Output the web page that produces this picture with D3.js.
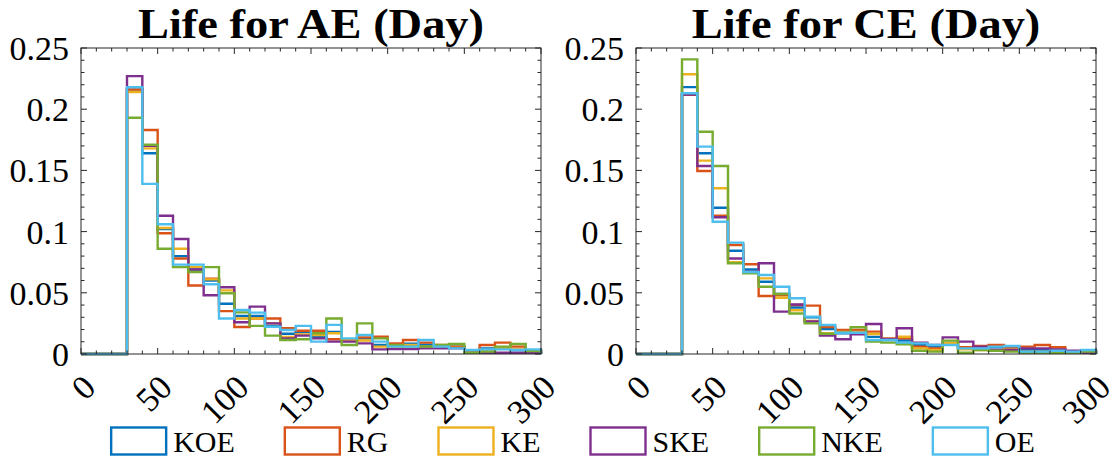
<!DOCTYPE html>
<html><head><meta charset="utf-8">
<script src="https://cdn.jsdelivr.net/npm/d3@7/dist/d3.min.js"></script>
<style>html,body{margin:0;padding:0;background:#fff;}svg{display:block;}</style>
</head><body><svg id="c" width="1118" height="468"></svg>
<script>
// ---- data ----
const binStarts = [0,10,20,30,40,50,60,70,80,90,100,110,120,130,140,150,160,170,180,190,200,210,220,230,240,250,260,270,280,290];
const binEnd = 300;
const seriesNames = ["KOE","RG","KE","SKE","NKE","OE"];
const seriesColors = ["#0072BD","#D95319","#EDB120","#7E2F8E","#77AC30","#4DBEEE"];
const xTicks = [0,50,100,150,200,250,300];
const yTicks = [0,0.05,0.1,0.15,0.2,0.25];
const yTickLabels = ["0","0.05","0.1","0.15","0.2","0.25"];
const titles = ["Life for AE (Day)","Life for CE (Day)"];

// Panel 1: AE
const aeKOE = [0,0,0,0.216,0.164,0.102,0.080,0.069,0.060,0.041,0.031,0.031,0.023,0.0165,0.018,0.014,0.018,0.012,0.0128,0.0074,0.007,0.0085,0.0075,0.0065,0.006,0.003,0.0046,0.0046,0.0033,0.0025];
const aeRG  = [0,0,0,0.216,0.183,0.0986,0.078,0.056,0.0616,0.035,0.022,0.029,0.029,0.021,0.019,0.019,0.012,0.0114,0.0136,0.0141,0.0087,0.0114,0.0093,0.0074,0.006,0.0019,0.0074,0.0093,0.006,0.0025];
const aeKE  = [0,0,0,0.214,0.168,0.103,0.086,0.071,0.061,0.052,0.029,0.029,0.025,0.014,0.016,0.0155,0.0169,0.011,0.011,0.006,0.0055,0.0074,0.006,0.0055,0.005,0.0025,0.0033,0.005,0.0038,0.0025];
const aeSKE = [0,0,0,0.227,0.170,0.113,0.094,0.069,0.048,0.0545,0.026,0.0387,0.025,0.0128,0.015,0.0128,0.0101,0.0101,0.0087,0.0038,0.004,0.004,0.0046,0.0046,0.0046,0.001,0.001,0.001,0.001,0.001];
const aeNKE = [0,0,0,0.193,0.171,0.086,0.071,0.067,0.071,0.0496,0.034,0.023,0.015,0.0114,0.012,0.017,0.029,0.0074,0.025,0.0128,0.0074,0.006,0.006,0.0074,0.0082,0.001,0.0019,0.006,0.0082,0.0025];
const aeOE  = [0,0,0,0.218,0.139,0.106,0.073,0.073,0.057,0.029,0.036,0.0338,0.0223,0.0196,0.023,0.0101,0.0238,0.0128,0.0155,0.0101,0.006,0.006,0.0114,0.006,0.0046,0.0033,0.0038,0.0038,0.0033,0.0038];

// Panel 2: CE
const ceKOE = [0,0,0,0.218,0.164,0.1195,0.0844,0.069,0.059,0.049,0.038,0.030,0.0204,0.017,0.018,0.014,0.0114,0.011,0.0074,0.006,0.009,0.0046,0.0046,0.0055,0.0046,0.0033,0.0033,0.0033,0.0019,0.0019];
const ceRG  = [0,0,0,0.2117,0.1495,0.113,0.089,0.0733,0.0474,0.048,0.040,0.0395,0.022,0.0196,0.0196,0.0183,0.0128,0.0128,0.006,0.0046,0.0087,0.0055,0.0065,0.0074,0.0046,0.006,0.0074,0.0055,0.0019,0.0025];
const ceKE  = [0,0,0,0.2285,0.158,0.1354,0.0749,0.0665,0.0618,0.046,0.0358,0.027,0.017,0.018,0.018,0.0163,0.012,0.0141,0.0046,0.0033,0.009,0.0038,0.0033,0.0027,0.0038,0.0019,0.0019,0.0019,0.001,0.0019];
const ceSKE = [0,0,0,0.212,0.1536,0.1117,0.078,0.0673,0.0741,0.0346,0.0405,0.0265,0.015,0.012,0.016,0.0245,0.012,0.021,0.0093,0.0074,0.0136,0.0101,0.006,0.0033,0.0033,0.0046,0.0046,0.0038,0.0027,0.001];
const ceNKE = [0,0,0,0.2407,0.1816,0.1536,0.0741,0.066,0.055,0.049,0.0331,0.025,0.0165,0.0174,0.0218,0.0101,0.0093,0.008,0.0027,0.0019,0.0109,0.001,0.0033,0.0027,0.0019,0.001,0.001,0.001,0.001,0.0019];
const ceOE  = [0,0,0,0.213,0.1694,0.1081,0.091,0.067,0.0645,0.055,0.0455,0.0305,0.0237,0.0174,0.0174,0.0114,0.0114,0.0093,0.0087,0.0074,0.0074,0.0046,0.0046,0.006,0.0065,0.0019,0.0019,0.0027,0.0019,0.0033];

const panelsData = [
  [aeKOE, aeRG, aeKE, aeSKE, aeNKE, aeOE],
  [ceKOE, ceRG, ceKE, ceSKE, ceNKE, ceOE]
];

// ---- layout ----
const svg = d3.select("#c");
const FONT = "'Liberation Serif','Times New Roman',serif";
const axColor = "#262626";
const panelBoxes = [{l:81, r:541}, {l:636, r:1096}];
const yTop = 48, yBottom = 354;

panelBoxes.forEach((pb, pi) => {
  const x = d3.scaleLinear().domain([0, 300]).range([pb.l, pb.r]);
  const y = d3.scaleLinear().domain([0, 0.25]).range([yBottom, yTop]);
  const g = svg.append("g");

  // series stairs
  panelsData[pi].forEach((vals, si) => {
    const pts = [[binStarts[0], 0]];
    vals.forEach((v, i) => pts.push([binStarts[i], v]));
    pts.push([binEnd, vals[vals.length - 1]]);
    pts.push([binEnd, 0]);
    const line = d3.line().x(d => x(d[0])).y(d => y(d[1])).curve(d3.curveStepAfter);
    g.append("path").attr("d", line(pts)).attr("fill", "none")
      .attr("stroke", seriesColors[si]).attr("stroke-width", 2.4)
      .attr("stroke-linejoin", "miter");
  });

  // box
  g.append("rect").attr("x", pb.l).attr("y", yTop).attr("width", pb.r - pb.l).attr("height", yBottom - yTop)
    .attr("fill", "none").attr("stroke", axColor).attr("stroke-width", 1);

  // minor / major ticks (inward, mirrored)
  const xMinor = d3.range(0, 301, 10);
  xMinor.forEach(t => {
    const len = (t % 50 === 0) ? 6 : 3.5;
    g.append("line").attr("x1", x(t)).attr("x2", x(t)).attr("y1", yBottom).attr("y2", yBottom - len).attr("stroke", axColor);
    g.append("line").attr("x1", x(t)).attr("x2", x(t)).attr("y1", yTop).attr("y2", yTop + len).attr("stroke", axColor);
  });
  const yMinor = d3.range(0, 26, 1).map(k => k / 100);
  yMinor.forEach((t, k) => {
    const len = (k % 5 === 0) ? 6 : 3.5;
    g.append("line").attr("y1", y(t)).attr("y2", y(t)).attr("x1", pb.l).attr("x2", pb.l + len).attr("stroke", axColor);
    g.append("line").attr("y1", y(t)).attr("y2", y(t)).attr("x1", pb.r).attr("x2", pb.r - len).attr("stroke", axColor);
  });

  // y tick labels
  yTicks.forEach((t, i) => {
    g.append("text").attr("x", pb.l - 12).attr("y", y(t)).attr("dy", "0.35em")
      .attr("text-anchor", "end").attr("font-family", FONT).attr("font-size", 34)
      .attr("fill", "#000").text(yTickLabels[i]);
  });
  // x tick labels rotated
  xTicks.forEach(t => {
    const px = x(t) + 8, py = 381;
    g.append("text").attr("transform", `translate(${px},${py}) rotate(-45)`)
      .attr("text-anchor", "end").attr("dy", "0.35em").attr("font-family", FONT).attr("font-size", 34)
      .attr("fill", "#000").text(t);
  });
  // title
  g.append("text").attr("transform", `translate(${(pb.l + pb.r) / 2},37.5) scale(1.08,1)`)
    .attr("text-anchor", "middle")
    .attr("font-family", FONT).attr("font-weight", "bold").attr("font-size", 43)
    .attr("fill", "#000").text(titles[pi]);
});

// legend
const leg = svg.append("g");
const boxW = 55, boxH = 27, gap = 7, fs = 30, entryPad = 50;
const tmp = svg.append("text").attr("font-family", FONT).attr("font-size", fs);
const widths = seriesNames.map(n => { tmp.text(n); return tmp.node().getComputedTextLength(); });
tmp.remove();
const total = d3.sum(widths) + seriesNames.length * (boxW + gap) + (seriesNames.length - 1) * entryPad;
let cx = 573 - total / 2;
const ly = 441;
seriesNames.forEach((n, i) => {
  leg.append("rect").attr("x", cx).attr("y", ly - boxH / 2).attr("width", boxW).attr("height", boxH)
    .attr("fill", "none").attr("stroke", seriesColors[i]).attr("stroke-width", 2.4);
  leg.append("text").attr("x", cx + boxW + gap).attr("y", ly).attr("dy", "0.35em")
    .attr("font-family", FONT).attr("font-size", fs).attr("fill", "#000").text(n);
  cx += boxW + gap + widths[i] + entryPad;
});
</script></body></html>
